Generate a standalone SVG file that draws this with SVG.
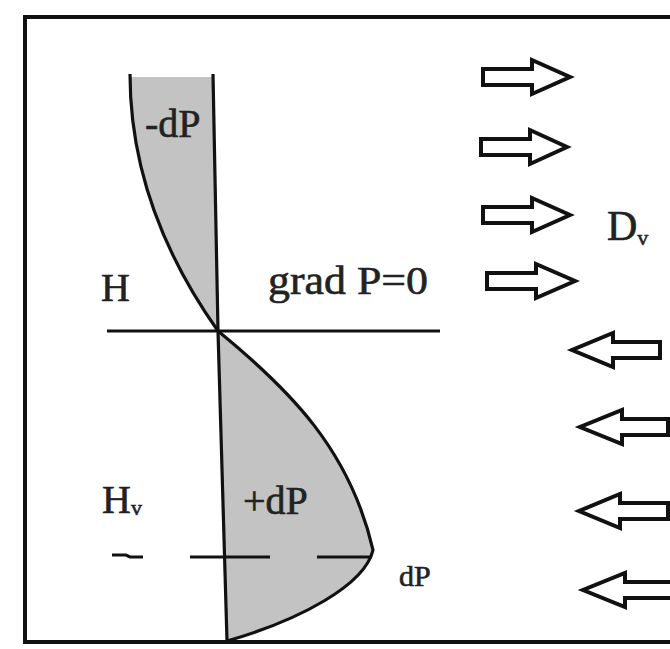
<svg xmlns="http://www.w3.org/2000/svg" width="670" height="649" viewBox="0 0 670 649">
<defs>
<style>
.ln{fill:none;stroke:#111;stroke-width:3.2;stroke-linecap:butt}
.area{fill:#c3c3c3;stroke:none}
.arr{fill:#fff;stroke:#111;stroke-width:4;stroke-linejoin:miter}
.t{font-family:"Liberation Serif","Times New Roman",serif;font-size:40px;fill:#222;stroke:#222;stroke-width:0.6}
.s{font-size:22px}
</style>
</defs>
<rect x="0" y="0" width="670" height="649" fill="#fff"/>
<g id="frame">
<path class="ln" d="M680,17 L25,17 L25,642 L680,642" style="stroke-width:4"/>
</g>
<g id="upper-profile">
<path class="area" d="M130,77 L213,77 L218,331 C172,266 130,180 130,77 Z"/>
<path class="ln" d="M218,331 C172,266 130,180 130,74"/>
<path class="ln" d="M213,74 L218,331"/>
<text class="t" x="145" y="137">-dP</text>
</g>
<g id="lower-profile">
<path class="area" d="M218,331 C290,390 350,450 373,550 C365,585 300,620 227,641 Z"/>
<path class="ln" d="M218,331 C290,390 350,450 373,550 C365,585 300,620 227,641"/>
<path class="ln" d="M218,331 L227,641"/>
<text class="t" x="243" y="514">+dP</text>
</g>
<g id="level-H">
<path class="ln" d="M107,331 L440,331"/>
<text class="t" x="101" y="301">H</text>
<text class="t" x="268" y="294" textLength="160" lengthAdjust="spacingAndGlyphs">grad P=0</text>
</g>
<g id="level-Hv">
<path class="ln" d="M112,555 L126,555 L130,557 L143,557"/>
<path class="ln" d="M190,557 L270,557"/>
<path class="ln" d="M317,557 L372,557"/>
<text class="t" x="102" y="513">H<tspan class="s" dy="2">v</tspan></text>
<text class="t" x="399" y="586" style="font-size:30px">dP</text>
</g>
<g id="Dv-label">
<text class="t" x="607" y="240" style="font-size:42px">D<tspan class="s" dy="5">v</tspan></text>
</g>
<g id="arrows">
<path class="arr" d="M483,69 L532,69 L532,60 L570,77 L532,94 L532,85 L483,85 Z"/>
<path class="arr" d="M481,139 L530,139 L530,130 L567,147 L530,164 L530,155 L481,155 Z"/>
<path class="arr" d="M483,207 L532,207 L532,198 L570,215 L532,232 L532,223 L483,223 Z"/>
<path class="arr" d="M487,273 L536,273 L536,264 L575,281 L536,298 L536,289 L487,289 Z"/>
<path class="arr" d="M660,342 L613,342 L613,333 L572,350 L613,367 L613,358 L660,358 Z"/>
<path class="arr" d="M668,419 L622,419 L622,410 L580,427 L622,444 L622,435 L668,435 Z"/>
<path class="arr" d="M668,503 L620,503 L620,494 L579,511 L620,528 L620,519 L668,519 Z"/>
<path class="arr" d="M674,582 L625,582 L625,573 L583,590 L625,607 L625,598 L674,598 Z"/>
</g>
</svg>
